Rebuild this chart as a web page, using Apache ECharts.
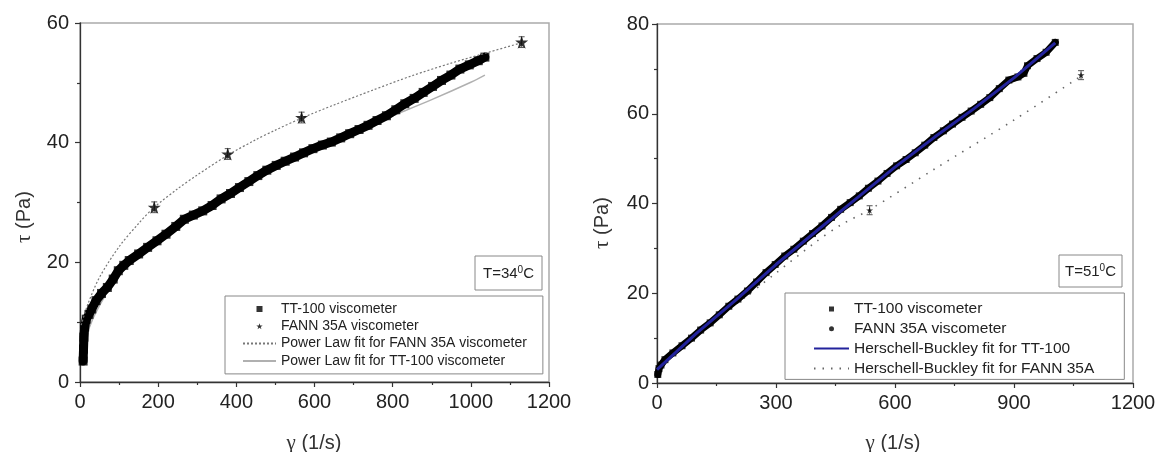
<!DOCTYPE html>
<html>
<head>
<meta charset="utf-8">
<script src="https://cdn.jsdelivr.net/npm/echarts@6/dist/echarts.min.js"></script>
<style>
html,body{margin:0;padding:0;background:#fff;}
#chart{width:1162px;height:452px;}
</style>
</head>
<body>
<div id="chart"></div>
<script>
// ---------- Left panel (T = 34 °C) ----------
const leftXTicks = [0, 200, 400, 600, 800, 1000, 1200];
const leftYTicks = [0, 20, 40, 60];
const leftTT100 = [[8,3.5],[9,5.5],[10,7.5],[12,9.2],[16,10.5],[23,11.3],[30,12.2],[41,13.6],[55,14.8],[70,15.8],[85,17.2],[98,18.6],[112,19.5],[126,20.3],[150,21.4],[173,22.5],[197,23.6],[220,24.7],[245,26.0],[267,27.2],[290,27.9],[314,28.6],[338,29.5],[361,30.6],[385,31.5],[408,32.5],[432,33.5],[455,34.5],[478,35.4],[502,36.2],[525,36.9],[549,37.6],[572,38.3],[596,39.0],[620,39.6],[643,40.1],[667,40.8],[690,41.5],[714,42.2],[737,42.9],[760,43.7],[784,44.5],[808,45.5],[831,46.5],[855,47.4],[878,48.4],[902,49.4],[925,50.4],[949,51.3],[972,52.3],[996,53.0],[1019,53.7],[1036,54.3]];
const leftFANN = [[190,29.2],[378,38.1],[567,44.2],[1130,56.8]];
const leftFANNErr = [0.9, 0.9, 0.9, 0.9];
const leftFitFANN = [[3,9.5],[20,13],[50,17.5],[100,22.6],[150,26.5],[190,29.2],[250,32.3],[300,34.6],[378,37.9],[450,40.5],[500,42.1],[567,44.1],[650,46.3],[750,48.8],[850,51.2],[950,53.3],[1050,55.2],[1130,56.7]];
const leftFitTT100 = [[5,4.5],[20,8.5],[50,12.8],[100,17.8],[200,23.8],[300,28.5],[400,32.4],[500,35.8],[600,38.9],[700,41.8],[800,44.5],[900,47.2],[1000,50.1],[1036,51.3]];

// ---------- Right panel (T = 51 °C) ----------
const rightXTicks = [0, 300, 600, 900, 1200];
const rightYTicks = [0, 20, 40, 60, 80];
const rightTT100 = [[2,1.9],[5,3.2],[10,4.0],[20,5.2],[40,6.7],[63,8.3],[87,10.0],[110,11.8],[134,13.4],[157,15.2],[181,17.1],[204,18.7],[228,20.5],[251,22.5],[275,24.6],[298,26.4],[322,28.3],[345,29.8],[369,31.6],[392,33.3],[416,35.0],[440,36.9],[463,38.7],[487,40.2],[510,41.7],[533,43.4],[557,45.0],[580,46.7],[604,48.4],[628,49.8],[651,51.3],[675,53.0],[698,54.7],[722,56.2],[745,57.7],[769,59.2],[792,60.6],[816,62.1],[839,63.6],[863,65.6],[887,67.5],[910,68.2],[925,69.0],[934,70.7],[958,72.3],[981,73.7],[1004,75.9]];
const rightFANN = [[536,38.5],[1069,68.6]];
const rightFANNErr = [1.0, 1.0];
const rightFitTT100 = [[0,3.0],[100,11.1],[200,18.6],[300,26.4],[400,33.7],[500,40.9],[600,48.1],[700,54.8],[800,61.2],[900,68.0],[1004,75.8]];
const rightFitFANN = [[3,3.3],[100,10.6],[200,17.6],[300,24.5],[400,31.4],[463,35.2],[536,38.6],[700,47.7],[900,58.6],[1069,68.4]];

const STAR = 'path://M50,0L61.2,34.6L97.6,34.5L68.1,55.9L79.4,90.5L50,69L20.6,90.5L31.9,55.9L2.4,34.5L38.8,34.6Z';
const SQUARE = 'path://M0,0L10,0L10,10L0,10Z';
const SANS = 'Liberation Sans, Arial, sans-serif';
const SERIF = 'Liberation Serif, Times New Roman, serif';

function withErr(pts, errs) { return pts.map((p, i) => [p[0], p[1], errs[i]]); }

function errRender(params, api) {
  const x = api.value(0), y = api.value(1), e = api.value(2);
  const t = api.coord([x, y + e]), b = api.coord([x, y - e]);
  const w = 3;
  const st = { stroke: '#555', lineWidth: 1 };
  return { type: 'group', children: [
    { type: 'line', shape: { x1: t[0], y1: t[1], x2: b[0], y2: b[1] }, style: st },
    { type: 'line', shape: { x1: t[0]-w, y1: t[1], x2: t[0]+w, y2: t[1] }, style: st },
    { type: 'line', shape: { x1: b[0]-w, y1: b[1], x2: b[0]+w, y2: b[1] }, style: st }
  ]};
}

function axisCfg(grid, max, interval, margin) {
  return {
    gridIndex: grid, type: 'value', min: 0, max: max, interval: interval,
    axisLine: { show: true, onZero: false, lineStyle: { color: '#333', width: 1.3 } },
    axisTick: { show: true, inside: false, length: 5, lineStyle: { color: '#333', width: 1.2 } },
    minorTick: { show: true, splitNumber: 2, length: 3, lineStyle: { color: '#333', width: 1.2 } },
    splitLine: { show: false },
    axisLabel: { fontSize: 20, color: '#222', margin: margin, fontFamily: SANS, formatter: v => String(v) }
  };
}

const hideSym = { opacity: 0 };

const chart = echarts.init(document.getElementById('chart'));
chart.setOption({
  animation: false,
  backgroundColor: '#fff',
  grid: [
    { left: 80, top: 23, width: 469, height: 359, show: true, borderColor: '#aaa', borderWidth: 1.5, backgroundColor: 'transparent' },
    { left: 657, top: 24, width: 476, height: 359, show: true, borderColor: '#aaa', borderWidth: 1.5, backgroundColor: 'transparent' }
  ],
  xAxis: [axisCfg(0, 1200, 200, 10), axisCfg(1, 1200, 300, 10)],
  yAxis: [axisCfg(0, 60, 20, 11), axisCfg(1, 80, 20, 8)],
  legend: [
    {
      left: 225, top: 296, orient: 'vertical', selectedMode: false,
      padding: [6, 16, 6, 17], itemGap: 3.3, itemWidth: 33, itemHeight: 6,
      symbolKeepAspect: true,
      backgroundColor: '#fff', borderColor: '#888', borderWidth: 1,
      textStyle: { fontSize: 14, color: '#222', fontFamily: SANS },
      data: [
        { name: 'TT-100 viscometer', icon: SQUARE },
        { name: 'FANN 35A viscometer', icon: STAR },
        { name: 'Power Law fit for FANN 35A viscometer', itemStyle: hideSym },
        { name: 'Power Law fit for TT-100 viscometer', itemStyle: hideSym }
      ]
    },
    {
      left: 785, top: 293, orient: 'vertical', selectedMode: false,
      padding: [8, 30, 3, 28], itemGap: 3.8, itemWidth: 35, itemHeight: 5,
      symbolKeepAspect: true,
      backgroundColor: '#fff', borderColor: '#888', borderWidth: 1,
      textStyle: { fontSize: 15.5, color: '#222', fontFamily: SANS },
      data: [
        { name: 'TT-100 viscometer', icon: SQUARE },
        { name: 'FANN 35A viscometer', icon: 'circle' },
        { name: 'Herschell-Buckley fit for TT-100', itemStyle: hideSym },
        { name: 'Herschell-Buckley fit for FANN 35A', itemStyle: hideSym }
      ]
    }
  ],
  graphic: [
    { type: 'text', x: 24, y: 217, rotation: Math.PI / 2,
      style: { text: '{g|τ} (Pa)', align: 'center', verticalAlign: 'middle', fill: '#333', font: '20px ' + SANS,
        rich: { g: { fontFamily: SERIF, fontSize: 21, fill: '#333' } } } },
    { type: 'text', x: 602, y: 223, rotation: Math.PI / 2,
      style: { text: '{g|τ} (Pa)', align: 'center', verticalAlign: 'middle', fill: '#333', font: '20px ' + SANS,
        rich: { g: { fontFamily: SERIF, fontSize: 21, fill: '#333' } } } },
    { type: 'text', x: 314, y: 443,
      style: { text: '{g|γ} (1/s)', align: 'center', verticalAlign: 'middle', fill: '#333', font: '20px ' + SANS,
        rich: { g: { fontFamily: SERIF, fontSize: 21, fill: '#333' } } } },
    { type: 'text', x: 893, y: 443,
      style: { text: '{g|γ} (1/s)', align: 'center', verticalAlign: 'middle', fill: '#333', font: '20px ' + SANS,
        rich: { g: { fontFamily: SERIF, fontSize: 21, fill: '#333' } } } },
    { type: 'rect', shape: { x: 475, y: 256, width: 67, height: 34 }, style: { fill: '#fff', stroke: '#888', lineWidth: 1 } },
    { type: 'text', x: 508.5, y: 274,
      style: { text: '{a|T=34}{s|0}{a|C}', align: 'center', verticalAlign: 'middle',
        rich: { a: { fontSize: 15, fontFamily: SANS, fill: '#222', lineHeight: 18 },
                s: { fontSize: 10, fontFamily: SANS, fill: '#222', verticalAlign: 'top', lineHeight: 18 } } } },
    { type: 'rect', shape: { x: 1059, y: 255, width: 63, height: 32 }, style: { fill: '#fff', stroke: '#888', lineWidth: 1 } },
    { type: 'text', x: 1090.5, y: 272,
      style: { text: '{a|T=51}{s|0}{a|C}', align: 'center', verticalAlign: 'middle',
        rich: { a: { fontSize: 15, fontFamily: SANS, fill: '#222', lineHeight: 18 },
                s: { fontSize: 10, fontFamily: SANS, fill: '#222', verticalAlign: 'top', lineHeight: 18 } } } }
  ],
  series: [
    // left
    { name: 'Power Law fit for TT-100 viscometer', type: 'line', xAxisIndex: 0, yAxisIndex: 0, data: leftFitTT100,
      symbol: 'none', smooth: 0.3, lineStyle: { color: '#b0b0b0', width: 1.5 }, itemStyle: { color: '#b0b0b0' }, z: 1 },
    { name: 'leftBand', type: 'line', xAxisIndex: 0, yAxisIndex: 0, data: leftTT100,
      symbol: 'none', lineStyle: { color: '#000', width: 9, join: 'round', cap: 'round' }, itemStyle: { color: '#000' }, z: 2 },
    { name: 'TT-100 viscometer', type: 'scatter', xAxisIndex: 0, yAxisIndex: 0, data: leftTT100,
      symbol: 'rect', symbolSize: 9, itemStyle: { color: '#000' }, z: 2 },
    { name: 'Power Law fit for FANN 35A viscometer', type: 'line', xAxisIndex: 0, yAxisIndex: 0, data: leftFitFANN,
      symbol: 'none', smooth: 0.3, lineStyle: { color: '#777', width: 1.2, type: [2, 2] }, itemStyle: { color: '#777' }, z: 3 },
    { name: 'leftErr', type: 'custom', xAxisIndex: 0, yAxisIndex: 0, data: withErr(leftFANN, leftFANNErr),
      renderItem: errRender, encode: { x: 0, y: 1 }, z: 4 },
    { name: 'FANN 35A viscometer', type: 'scatter', xAxisIndex: 0, yAxisIndex: 0, data: leftFANN,
      symbol: STAR, symbolSize: 13, itemStyle: { color: '#000' }, z: 5 },
    // right
    { name: 'Herschell-Buckley fit for FANN 35A', type: 'line', xAxisIndex: 1, yAxisIndex: 1, data: rightFitFANN,
      symbol: 'none', smooth: 0.3, lineStyle: { color: '#666', width: 1.6, type: [1.5, 7] }, itemStyle: { color: '#666' }, z: 1 },
    { name: 'rightBand', type: 'line', xAxisIndex: 1, yAxisIndex: 1, data: rightTT100,
      symbol: 'none', lineStyle: { color: '#000', width: 7, join: 'round', cap: 'round' }, itemStyle: { color: '#000' }, z: 2 },
    { name: 'TT-100 viscometer', type: 'scatter', xAxisIndex: 1, yAxisIndex: 1, data: rightTT100,
      symbol: 'rect', symbolSize: 7, itemStyle: { color: '#000' }, z: 2 },
    { name: 'Herschell-Buckley fit for TT-100', type: 'line', xAxisIndex: 1, yAxisIndex: 1, data: rightFitTT100,
      symbol: 'none', lineStyle: { color: '#23239c', width: 3 }, itemStyle: { color: '#23239c' }, z: 3 },
    { name: 'rightErr', type: 'custom', xAxisIndex: 1, yAxisIndex: 1, data: withErr(rightFANN, rightFANNErr),
      renderItem: errRender, encode: { x: 0, y: 1 }, z: 4 },
    { name: 'FANN 35A viscometer', type: 'scatter', xAxisIndex: 1, yAxisIndex: 1, data: rightFANN,
      symbol: STAR, symbolSize: 7, itemStyle: { color: '#000' }, z: 5 }
  ]
});
</script>
</body>
</html>
